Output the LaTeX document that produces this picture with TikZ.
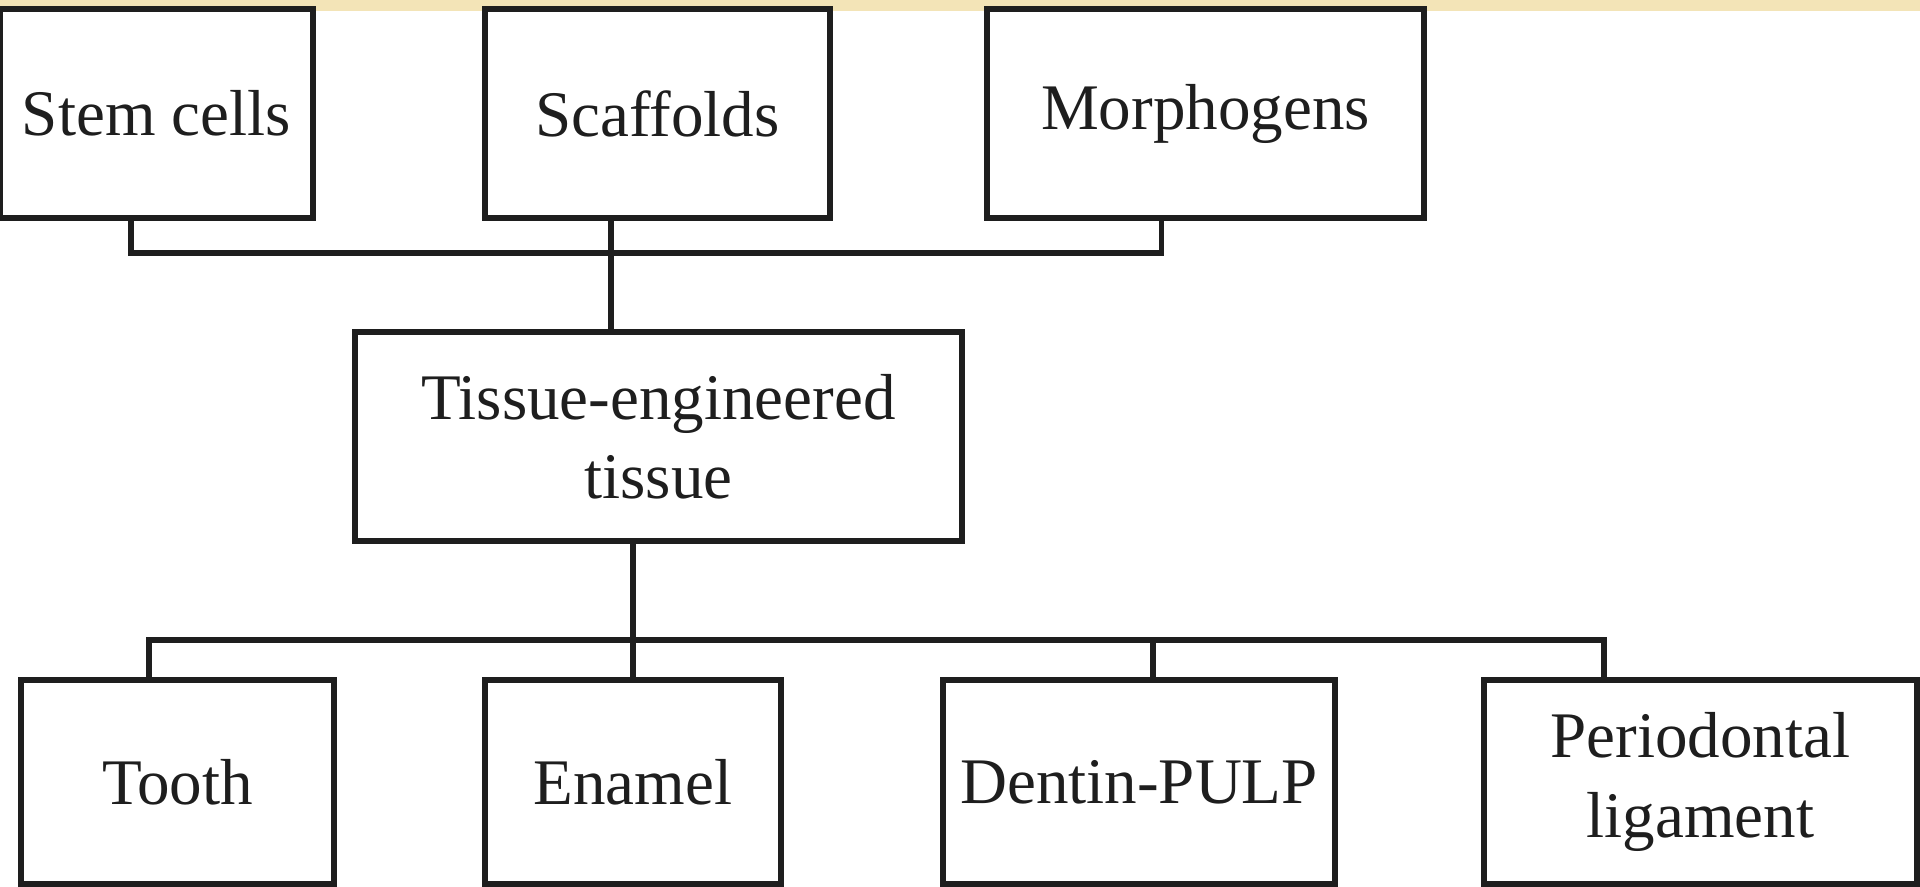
\documentclass[tikz,border=0pt]{standalone}
\usepackage{fontspec}
\setmainfont{Liberation Serif}
\usetikzlibrary{positioning,calc}
\definecolor{bandcol}{RGB}{243,228,183}
\definecolor{inkcol}{RGB}{30,30,30}

\begin{document}
\begin{tikzpicture}[
    box/.style={rectangle, draw=inkcol, line width=1.8pt, fill=white, text=inkcol,
        minimum width=#1, minimum height=2.09cm, inner sep=0pt, align=center,
        font=\fontsize{18.5}{22.5}\selectfont},
    link/.style={draw=inkcol, line width=1.6pt}
]
    \useasboundingbox (0,0) rectangle (19.2,8.87);
    \fill[bandcol] (0,8.76) rectangle (19.2,8.87);

    % Inputs
    \node[box=3.13cm] (stem) at (1.565, 7.735) {Stem cells};
    \node[box=3.45cm] (scaf) at (6.575, 7.735) {Scaffolds};
    \node[box=4.37cm] (morph) at (12.055, 7.735) {Morphogens};

    % Tissue
    \node[box=6.07cm] (tissue) at (6.585, 4.505) {Tissue-engineered\\tissue};

    % Outputs
    \node[box=3.13cm, minimum height=2.04cm] (tooth) at (1.775, 1.05) {Tooth};
    \node[box=2.96cm, minimum height=2.04cm] (enamel) at (6.33, 1.05) {Enamel};
    \node[box=3.92cm, minimum height=2.04cm] (dentin) at (11.39, 1.05) {Dentin-PULP};
    \node[box=4.33cm, minimum height=2.04cm] (perio) at (17.005, 1.05) {Periodontal\\ligament};

    % Top bus
    \coordinate (j1) at (6.11, 6.34);
    \draw[link] ([xshift=-2.55mm]stem.south) |- (j1) -| ([xshift=-4.4mm]morph.south);
    \draw[link] ([xshift=-4.65mm]scaf.south) -- (tissue.north -| j1);

    % Bottom bus
    \coordinate (j2) at (6.33, 2.47);
    \draw[link] (tissue.south -| j2) -- (enamel.north);
    \draw[link] ([xshift=-2.85mm]tooth.north) |- (j2) -| ([xshift=-9.65mm]perio.north);
    \draw[link] ([xshift=1.4mm]dentin.north) -- ([xshift=1.4mm]dentin.north |- j2);
\end{tikzpicture}
\end{document}
